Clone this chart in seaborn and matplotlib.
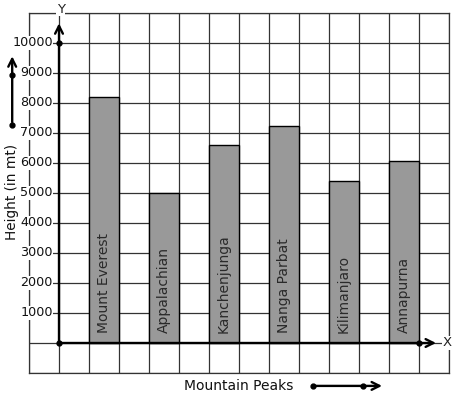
import matplotlib
matplotlib.use("Agg")
import matplotlib.pyplot as plt
import numpy as np
import pandas as pd
import seaborn as sns

peaks = ["Mount Everest", "Appalachian", "Kanchenjunga", "Nanga Parbat", "Kilimanjaro", "Annapurna"]
heights = [8200, 5000, 6600, 7230, 5400, 6060]
ytick_values = [1000, 2000, 3000, 4000, 5000, 6000, 7000, 8000, 9000, 10000]

sns.set_theme(style="white")
plt.rcParams['font.family'] = ['DejaVu Sans']

df = pd.DataFrame({"peak": peaks, "height": heights})

fig = plt.figure(figsize=(4.57, 3.99), dpi=100)
W, H = 457, 399
ax = fig.add_axes([29 / W, (H - 373) / H, 420 / W, 360 / H])
ax.set_facecolor("white")

gridc = "#333333"
sns.barplot(data=df, x="peak", y="height", color="#999999", saturation=1,
            edgecolor="black", linewidth=1.0, width=0.5, ax=ax, zorder=2)

ax.set_xlim(-1.25, 5.75)
ax.set_ylim(-1000, 11000)
ax.set_xticks(np.arange(-1.25, 5.76, 0.5), labels=[])
ax.set_yticks(np.arange(-1000, 11001, 1000), labels=[])
ax.tick_params(length=0)
ax.grid(True, color=gridc, linewidth=0.9, zorder=0)
ax.set_axisbelow(True)
ax.set_xlabel("")
ax.set_ylabel("")
for s in ax.spines.values():
    s.set_color(gridc)
    s.set_linewidth(0.9)

x0 = -0.75
# axes lines
ax.plot([x0, 5.25], [0, 0], color="black", lw=1.7, zorder=4, clip_on=False)
ax.plot([x0, x0], [0, 10000], color="black", lw=1.7, zorder=4, clip_on=False)
ax.annotate("", xy=(5.58, 0), xytext=(5.2, 0),
            arrowprops=dict(arrowstyle="->", color="black", lw=1.7, mutation_scale=14),
            annotation_clip=False, zorder=4)
ax.annotate("", xy=(x0, 10750), xytext=(x0, 9950),
            arrowprops=dict(arrowstyle="->", color="black", lw=1.7, mutation_scale=14),
            annotation_clip=False, zorder=4)
ax.plot([x0, x0, 5.25], [0, 10000, 0], "o", color="black", ms=3.5, zorder=5, clip_on=False)

ax.text(5.72, 0, "X", ha="center", va="center", fontsize=9.5, color="#222222",
        clip_on=False, bbox=dict(facecolor="white", edgecolor="none", pad=0.5))
ax.text(x0 + 0.03, 11130, "Y", ha="center", va="center", fontsize=9.5, color="#222222",
        clip_on=False, bbox=dict(facecolor="white", edgecolor="none", pad=0.5), zorder=5)

# y tick labels
for v in ytick_values:
    ax.text(x0 - 0.1, v, str(v), ha="right", va="center", fontsize=9.2, color="#111111",
            clip_on=False, zorder=3,
            bbox=dict(facecolor="white", edgecolor="none", pad=0.3))

# bar labels
for i, name in enumerate(peaks):
    ax.text(i, 330, name, rotation=90, ha="center", va="bottom", fontsize=10,
            color="#2a2a2a", zorder=3)

# y axis title and decorative arrow
ax.text(-1.53, 5030, "Height (in mt)", rotation=90, ha="center", va="center",
        fontsize=9.8, color="#111111", clip_on=False)
ax.annotate("", xy=(-1.53, 9650), xytext=(-1.53, 7270),
            arrowprops=dict(arrowstyle="->", color="black", lw=1.7, mutation_scale=14),
            annotation_clip=False)
ax.plot([-1.53, -1.53], [7270, 8930], "o", color="black", ms=3.5, clip_on=False)

# x axis title and decorative arrow
ax.text(2.25, -1430, "Mountain Peaks", ha="center", va="center", fontsize=10,
        color="#111111", clip_on=False)
ax.annotate("", xy=(4.68, -1430), xytext=(3.48, -1430),
            arrowprops=dict(arrowstyle="->", color="black", lw=1.7, mutation_scale=14),
            annotation_clip=False)
ax.plot([3.48, 4.32], [-1430, -1430], "o", color="black", ms=3.5, clip_on=False)

fig.savefig("out.png", dpi=100, facecolor="white")
